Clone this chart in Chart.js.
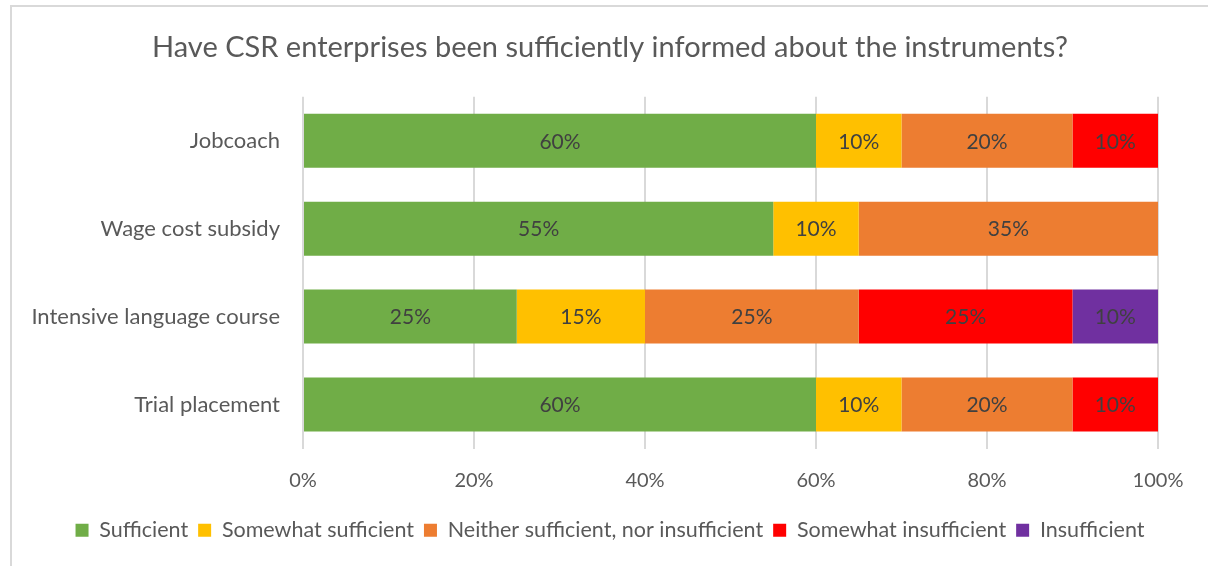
<!DOCTYPE html>
<html>
<head>
<meta charset="utf-8">
<script src="https://cdn.jsdelivr.net/npm/chart.js@4/dist/chart.umd.min.js"></script>
<style>
  body { margin: 0; background: #fff; }
  #cadre { position: absolute; left: 10px; top: 5px; width: 1210px; height: 580px; border: 2px solid #d9d9d9; }
  #myChart { position: absolute; left: 0; top: 0; }
</style>
</head>
<body>
<div id="cadre"></div>
<canvas id="myChart" width="1208" height="566"></canvas>
<script>
// Instruments (axe vertical)
var instruments = ['Jobcoach', 'Wage cost subsidy', 'Intensive language course', 'Trial placement'];

// Réponses en % par instrument
var sufficient          = [60, 55, 25, 60];
var somewhatSufficient  = [10, 10, 15, 10];
var neither             = [20, 35, 25, 20];
var somewhatInsuff      = [10, 0, 25, 10];
var insufficient        = [0, 0, 10, 0];

var xTicks = [0, 20, 40, 60, 80, 100];

var police = 'Lato, "Open Sans", sans-serif';

// écrit le % au milieu de chaque segment
const etiquettes = {
    id: 'etiquettes',
    afterDatasetsDraw(chart) {
        const ctx = chart.ctx;
        ctx.save();
        ctx.font = '21px ' + police;
        ctx.fillStyle = '#404040';
        ctx.textAlign = 'center';
        ctx.textBaseline = 'middle';
        chart.data.datasets.forEach(function(ds, i) {
            const meta = chart.getDatasetMeta(i);
            meta.data.forEach(function(bar, j) {
                const v = ds.data[j];
                if (!v) return;
                const p = bar.getProps(['x', 'y', 'base'], true);
                ctx.fillText(v + '%', (p.x + p.base) / 2, p.y + 1);
            });
        });
        ctx.restore();
    }
};

const ctx = document.getElementById('myChart');

new Chart(ctx, {
    type: 'bar',
    data: {
        labels: instruments,
        datasets: [
            { label: 'Sufficient', data: sufficient, backgroundColor: '#70ad47' },
            { label: 'Somewhat sufficient', data: somewhatSufficient, backgroundColor: '#ffc000' },
            { label: 'Neither sufficient, nor insufficient', data: neither, backgroundColor: '#ed7d31' },
            { label: 'Somewhat insufficient', data: somewhatInsuff, backgroundColor: '#ff0000' },
            { label: 'Insufficient', data: insufficient, backgroundColor: '#7030a0' }
        ]
    },
    options: {
        indexAxis: 'y',
        responsive: false,
        animation: false,
        categoryPercentage: 1,
        barPercentage: 0.614,
        layout: { padding: { left: 12, top: 5, bottom: 15, right: 0 } },
        plugins: {
            title: {
                display: true,
                text: 'Have CSR enterprises been sufficiently informed about the instruments?',
                color: '#595959',
                font: { family: police, size: 29, weight: 'normal' },
                padding: { top: 25, bottom: 32 }
            },
            legend: {
                position: 'bottom',
                labels: {
                    color: '#595959',
                    font: { family: police, size: 21.5 },
                    boxWidth: 13,
                    boxHeight: 13,
                    padding: 10
                }
            },
            tooltip: { enabled: false }
        },
        scales: {
            x: {
                stacked: true,
                min: 0,
                max: 100,
                afterBuildTicks: function(s) { s.ticks = xTicks.map(function(v) { return { value: v }; }); },
                afterFit: function(s) { s.height = 61; },
                grid: { color: '#d9d9d9', lineWidth: 2, drawTicks: false },
                border: { display: false },
                ticks: {
                    color: '#595959',
                    font: { family: police, size: 20 },
                    padding: 20,
                    callback: function(v) { return v + '%'; }
                }
            },
            y: {
                stacked: true,
                afterFit: function(s) { s.width = 291; },
                grid: { display: false, drawTicks: false },
                border: { display: false },
                ticks: {
                    color: '#595959',
                    font: { family: police, size: 22 },
                    padding: 23
                }
            },
            droite: {
                type: 'linear',
                position: 'right',
                display: true,
                afterFit: function(s) { s.width = 50; },
                grid: { display: false, drawTicks: false },
                border: { display: false },
                ticks: { display: false }
            }
        }
    },
    plugins: [etiquettes]
});
</script>
</body>
</html>
